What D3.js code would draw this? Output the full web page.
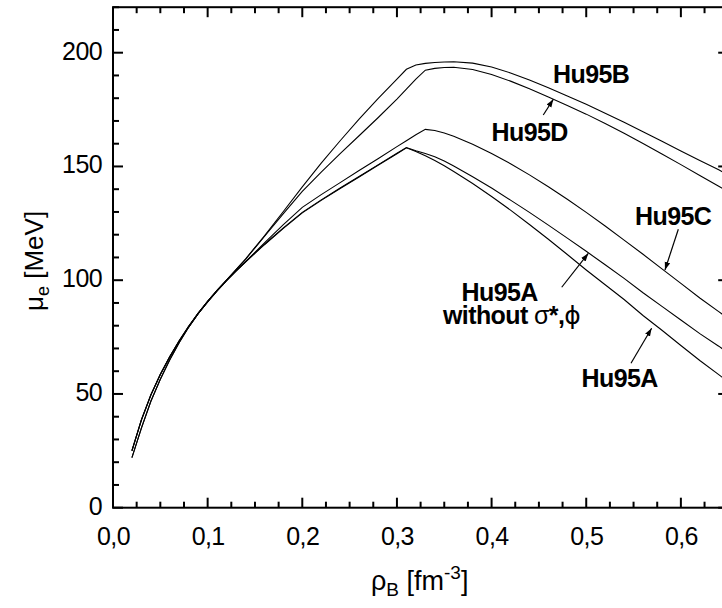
<!DOCTYPE html>
<html>
<head>
<meta charset="utf-8">
<script src="https://cdn.jsdelivr.net/npm/d3@7"></script>
<style>
  body { margin: 0; background: #fff; }
  svg { display: block; font-family: "Liberation Sans", Arial, sans-serif; }
</style>
</head>
<body>
<svg id="chart"></svg>
<script>
const W = 722, H = 608;

// baryon density grid [fm^-3]
const rho = [0.02,0.03,0.04,0.05,0.06,0.07,0.08,0.09,0.10,0.11,0.12,0.13,0.14,
  0.16,0.18,0.20,0.22,0.24,0.26,0.28,0.30,0.31,0.32,0.33,0.34,0.35,0.36,
  0.38,0.40,0.42,0.44,0.46,0.48,0.50,0.52,0.54,0.56,0.58,0.60,0.62,0.64,0.66];

// electron chemical potential [MeV]
const muA  = [25,38.5,49.5,58.5,66.3,73.3,79.6,85.3,90.5,95.3,99.8,104,108,
  115.6,122.8,129.6,135.1,140.3,145.4,150.5,155.6,158.2,156.6,154.7,152.6,150.3,147.8,
  142.5,136.8,130.8,124.5,118,111.3,104.5,98,91.5,84.5,78,71.3,64.7,58.5,52];
const muAw = [25.2,38.7,49.7,58.7,66.5,73.5,79.8,85.5,90.7,95.5,100,104.2,108.2,
  115.8,123,129.8,135.3,140.5,145.6,150.7,155.8,158.3,156.9,155.7,154.3,152.4,150.2,
  145.5,140.5,135.2,129.8,124.2,118.5,112.7,106.8,100.8,94.5,88.5,82.5,76.5,71,65];
const muC  = [25,38.5,49.5,58.5,66.3,73.3,79.6,85.3,90.5,95.3,99.8,104,108.1,
  116.4,124.4,132,137.6,142.9,148.2,153.4,158.7,161.3,163.9,166.3,165.8,164.7,163.3,
  159.8,155.7,151.2,146.3,141.1,135.6,129.8,123.8,117.6,111.4,105,98.6,92.2,86.2,80];
const muB  = [22,35,46.8,56.5,65,72.6,79.4,85.4,90.7,95.5,100,104.6,109.3,
  119.5,130.2,141,151.5,161.3,170.8,179.8,188.4,192.7,194.6,195.3,195.7,195.9,196,
  195.4,193.7,191.1,188,184.6,181,177.3,173.4,169.4,165.3,161.1,156.8,152.6,148.5,144.2];
const muD  = [22,35,46.8,56.5,65,72.6,79.4,85.4,90.7,95.5,100,104.6,109.2,
  119.2,129.3,139,147.5,155.6,163.5,171.4,179.6,184,188.4,192.3,193.1,193.5,193.6,
  192.6,190.4,187.5,184.2,180.5,176.8,173,168.9,164.6,160.1,155.5,150.8,146,141.3,136.5];

const series = [muA, muAw, muC, muB, muD];

const xMajor = [0.0,0.1,0.2,0.3,0.4,0.5,0.6];
const yMajor = [0,50,100,150,200];

const x = d3.scaleLinear().domain([0, 0.65]).range([113, 728.2]);
const y = d3.scaleLinear().domain([0, 220]).range([507.7, 7.2]);

const svg = d3.select("#chart").attr("width", W).attr("height", H);
const defs = svg.append("defs");

defs.append("clipPath").attr("id", "plot")
  .append("rect")
  .attr("x", x(0)).attr("y", y(220))
  .attr("width", x(0.65) - x(0)).attr("height", y(0) - y(220));

// curves
const line = d3.line().x((d, i) => x(rho[i])).y(d => y(d));
svg.append("g").attr("clip-path", "url(#plot)")
  .selectAll("path").data(series).enter().append("path")
  .attr("d", line)
  .attr("fill", "none")
  .attr("stroke", "#000")
  .attr("stroke-width", 1.1);

// axes
const comma = d3.formatLocale({decimal: ",", thousands: ".", grouping: [3], currency: ["", ""]});
const xMinor = d3.range(0, 0.6501, 0.025);
const yMinor = d3.range(0, 220.01, 10);

function labelsOnly(g) {
  g.select(".domain").remove();
  g.selectAll(".tick line").remove();
  g.selectAll(".tick text").attr("fill", "#000").attr("font-size", 25)
    .attr("font-family", "'Liberation Sans', Arial, sans-serif")
    .attr("letter-spacing", -0.6);
}

// tick labels from the library axes
svg.append("g").attr("transform", `translate(0,${y(0)})`)
  .call(d3.axisBottom(x).tickValues(xMajor).tickSize(0).tickPadding(20)
    .tickFormat(comma.format(".1f")))
  .call(labelsOnly);
svg.append("g").attr("transform", `translate(${x(0)},0)`)
  .call(d3.axisLeft(y).tickValues(yMajor).tickSize(0).tickPadding(11)
    .tickFormat(d3.format("d")))
  .call(labelsOnly)
  .call(g => g.selectAll(".tick text").attr("dy", "0.26em"));

// frame
svg.append("rect")
  .attr("x", x(0)).attr("y", y(220))
  .attr("width", x(0.65) - x(0)).attr("height", y(0) - y(220))
  .attr("fill", "none").attr("stroke", "#000").attr("stroke-width", 2);

// inward tick marks on all four sides, placed with the scales
const isMajorX = v => xMajor.some(m => Math.abs(m - v) < 1e-6);
const isMajorY = v => yMajor.some(m => Math.abs(m - v) < 1e-6);
const tickG = svg.append("g").attr("stroke", "#000").attr("stroke-width", 2);

[y(0), y(220)].forEach((yy, side) => {
  const dir = side === 0 ? -1 : 1;
  tickG.selectAll(null).data(xMinor).enter().append("line")
    .attr("x1", d => x(d)).attr("x2", d => x(d))
    .attr("y1", yy)
    .attr("y2", d => yy + dir * (isMajorX(d) ? 10 : 6));
});
[x(0), x(0.65)].forEach((xx, side) => {
  const dir = side === 0 ? 1 : -1;
  tickG.selectAll(null).data(yMinor).enter().append("line")
    .attr("y1", d => y(d)).attr("y2", d => y(d))
    .attr("x1", xx)
    .attr("x2", d => xx + dir * (isMajorY(d) ? 10 : 6));
});

// axis titles
const xt = svg.append("text").attr("x", 371).attr("y", 590)
  .attr("font-size", 27).attr("fill", "#000");
xt.append("tspan").text("ρ");
xt.append("tspan").attr("font-size", 19).attr("dy", 6).text("B");
xt.append("tspan").attr("dy", -6).text(" [fm");
xt.append("tspan").attr("font-size", 19).attr("dy", -11).text("-3");
xt.append("tspan").attr("dy", 11).text("]");

const yt = svg.append("text")
  .attr("transform", "translate(43,311) rotate(-90)")
  .attr("font-size", 26).attr("fill", "#000");
yt.append("tspan").text("μ");
yt.append("tspan").attr("font-size", 18).attr("dy", 6).text("e");
yt.append("tspan").attr("dy", -6).text(" [MeV]");

// annotations
const labels = [
  {t: "Hu95B", x: 553, y: 83},
  {t: "Hu95D", x: 491.5, y: 140.5},
  {t: "Hu95C", x: 635, y: 225},
  {t: "Hu95A", x: 581.5, y: 386.5}
];
svg.selectAll("text.lab").data(labels).enter().append("text")
  .attr("class", "lab")
  .attr("x", d => d.x).attr("y", d => d.y)
  .attr("font-size", 25).attr("font-weight", "bold")
  .attr("letter-spacing", -0.6).attr("fill", "#000")
  .text(d => d.t);

// two-line label for the curve without sigma*, phi
const w = svg.append("text")
  .attr("font-size", 25).attr("font-weight", "bold")
  .attr("letter-spacing", -0.6).attr("fill", "#000");
w.append("tspan").attr("x", 461.5).attr("y", 300.5).text("Hu95A");
w.append("tspan").attr("x", 443).attr("y", 323.5).text("without ");
w.append("tspan").attr("font-weight", "normal").text("σ");
w.append("tspan").text("*,");
w.append("tspan").attr("font-weight", "normal").attr("font-family", "DejaVu Sans").text("ϕ");

// arrows: [from rho, from mu, tip rho, tip mu]
const arrows = [
  [0.4546, 172.6, 0.4652, 179.5],
  [0.5973, 122.4, 0.5832, 104.5],
  [0.4741, 96.9, 0.5022, 111.8],
  [0.5473, 63.5, 0.5691, 78.9]
];
defs.append("marker")
  .attr("id", "head").attr("viewBox", "0 0 10 10")
  .attr("refX", 10).attr("refY", 5)
  .attr("markerWidth", 8).attr("markerHeight", 8)
  .attr("markerUnits", "userSpaceOnUse")
  .attr("orient", "auto")
  .append("path").attr("d", "M0,1.5L10,5L0,8.5Z").attr("fill", "#000");

svg.selectAll("line.arr").data(arrows).enter().append("line")
  .attr("class", "arr")
  .attr("x1", d => x(d[0])).attr("y1", d => y(d[1]))
  .attr("x2", d => x(d[2])).attr("y2", d => y(d[3]))
  .attr("stroke", "#000").attr("stroke-width", 1.2)
  .attr("marker-end", "url(#head)");
</script>
</body>
</html>
